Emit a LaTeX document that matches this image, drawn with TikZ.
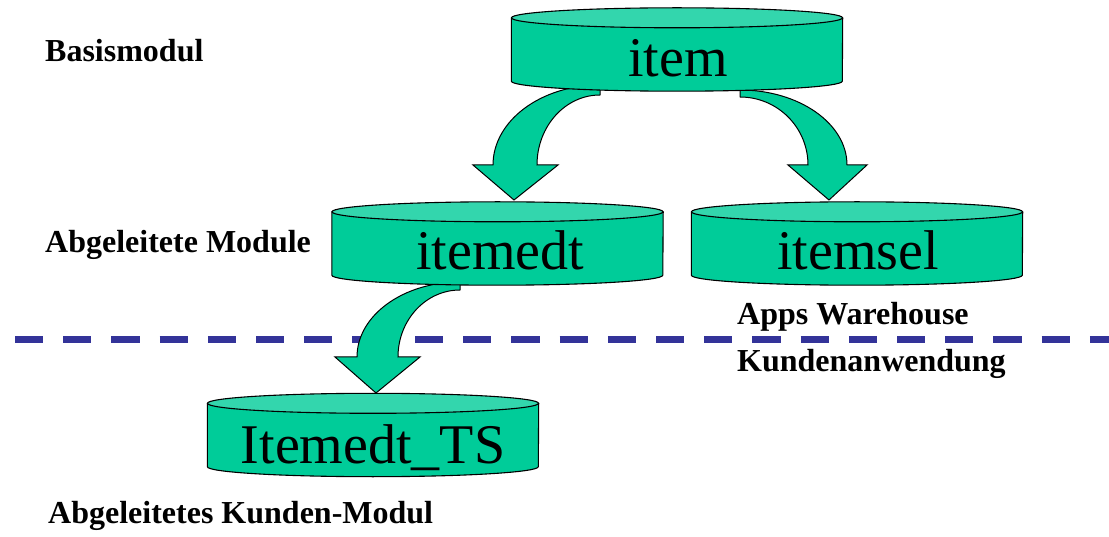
\documentclass[tikz,border=0pt]{standalone}
\usepackage{fontspec}
\setmainfont{Liberation Serif}
\usetikzlibrary{calc}
\definecolor{cylbody}{HTML}{00CC99}
\definecolor{cyltop}{HTML}{33D6AD}
\definecolor{sepblue}{HTML}{333399}
\tikzset{
  bodyfill/.style={fill=cylbody, draw=black, line width=1.1pt, line join=round},
  topfill/.style={fill=cyltop, draw=black, line width=1.1pt},
  cyltext/.style={anchor=base, inner sep=0pt, font=\fontsize{56}{60}\selectfont},
  lbl/.style={anchor=base west, inner sep=0pt, font=\fontsize{32}{34}\selectfont\bfseries},
  cylbox/.style={inner sep=0pt, minimum width=331pt, minimum height=63pt, draw=none},
  blockarrow/.style={fill=cylbody, draw=black, line width=1pt, line join=miter},
  sepline/.style={draw=sepblue, line width=7pt, dash pattern=on 28.2pt off 20pt, line cap=butt}
}
\newcommand\drawcyl[1]{%
  \path[bodyfill] (#1.north west) -- (#1.south west)
     arc[start angle=180, end angle=0, x radius=165.5, y radius=10]
     -- (#1.north east) -- cycle;
  \path[topfill] (#1.north) ellipse[x radius=165.5, y radius=10];
}
\begin{document}
\begin{tikzpicture}[x=1pt, y=-1pt]
\useasboundingbox (0,0) rectangle (1109,537);

% cylinder bodies (named, invisible placeholders)
\node[cylbox] (item)    at (677,49.5) {};
\node[cylbox] (itemedt) at (497.5,243.5) {};
\node[cylbox] (itemsel) at (857,243.5) {};
\node[cylbox] (itemts)  at (373,435) {};

% separator
\coordinate (s1a) at (15,339.5);
\coordinate (s1b) at (381,339.5);
\coordinate (s2a) at (415,339.5);
\coordinate (s2b) at (1109,339.5);
\draw[sepline] (s1a) -- (s1b);
\draw[sepline] (s2a) -- (s2b);

% block arrows
\coordinate (c1) at (600,165);
\coordinate (t1) at (514,200);
\path[blockarrow] ($(c1)+(0,-80)$)
   arc[start angle=270, end angle=180, x radius=107, y radius=80]
   -- ++(-20,0) -- (t1) -- (558,165) -- (537,165)
   arc[start angle=180, end angle=270, x radius=63, y radius=70]
   -- cycle;

\coordinate (c2) at (740,165);
\coordinate (t2) at (829,200);
\path[blockarrow] ($(c2)+(0,-75)$)
   arc[start angle=270, end angle=360, x radius=107, y radius=75]
   -- ++(20,0) -- (t2) -- (788,165) -- (808,165)
   arc[start angle=360, end angle=270, x radius=68, y radius=68]
   -- cycle;

\coordinate (c3) at (460,357);
\coordinate (t3) at (376,393);
\path[blockarrow] ($(c3)+(0,-75)$)
   arc[start angle=270, end angle=180, x radius=103, y radius=75]
   -- ++(-22,0) -- (t3) -- (420,357) -- (398,357)
   arc[start angle=180, end angle=270, x radius=62, y radius=67]
   -- cycle;

% cylinders
\drawcyl{item}
\drawcyl{itemedt}
\drawcyl{itemsel}
\drawcyl{itemts}

% cylinder texts
\node[cyltext] (itemL)    at (678,77)  {item};
\node[cyltext] (itemedtL) at (500,270) {itemedt};
\node[cyltext] (itemselL) at (858,270) {itemsel};
\node[cyltext] (itemtsL)  at (373,463) {Itemedt\_TS};

% labels
\node[lbl] (l1) at (45,62)   {Basismodul};
\node[lbl] (l2) at (45,253)  {Abgeleitete Module};
\node[lbl] (l3) at (737,325) {Apps Warehouse};
\node[lbl] (l4) at (737,372) {Kundenanwendung};
\node[lbl] (l5) at (48,523)  {Abgeleitetes Kunden-Modul};
\end{tikzpicture}
\end{document}
